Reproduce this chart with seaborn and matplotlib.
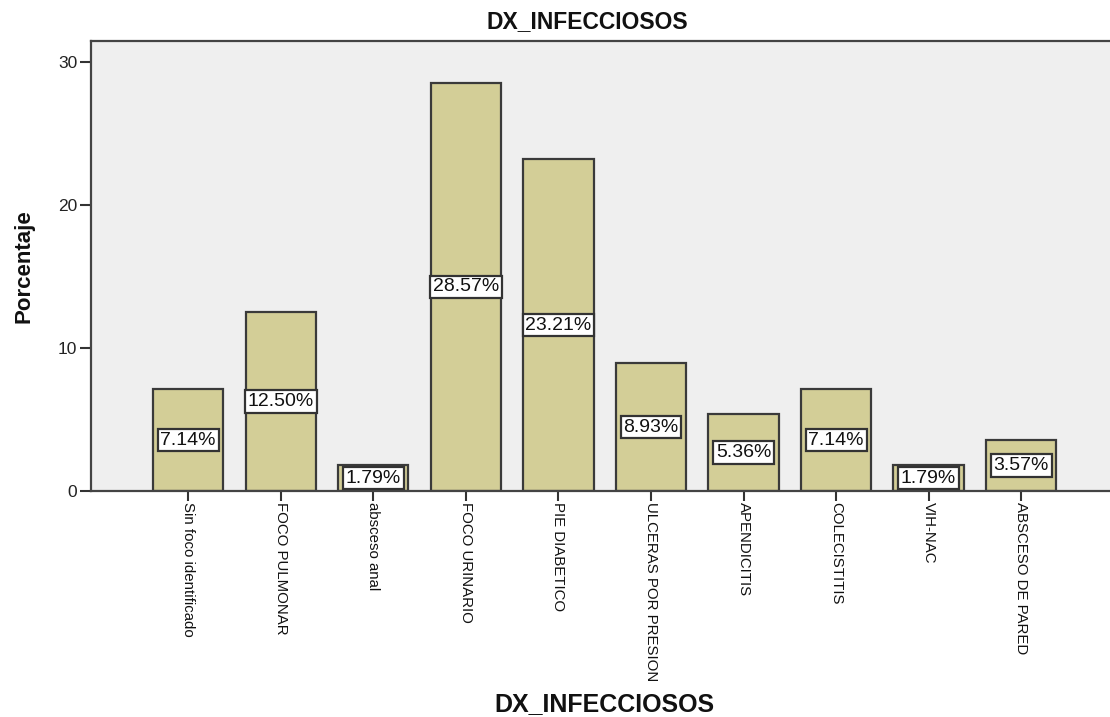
import matplotlib
matplotlib.use("Agg")
import matplotlib.pyplot as plt
import seaborn as sns
import pandas as pd

categorias = [
    "Sin foco identificado", "FOCO PULMONAR", "absceso anal", "FOCO URINARIO",
    "PIE DIABETICO", "ULCERAS POR PRESION", "APENDICITIS", "COLECISTITIS",
    "VIH-NAC", "ABSCESO DE PARED",
]
porcentajes = [7.14, 12.50, 1.79, 28.57, 23.21, 8.93, 5.36, 7.14, 1.79, 3.57]
y_ticks = [0, 10, 20, 30]

sns.set_style("white")
plt.rcParams["font.family"] = ["Liberation Sans", "DejaVu Sans"]

df = pd.DataFrame({"cat": categorias, "pct": porcentajes})

fig = plt.figure(figsize=(11.10, 7.17), dpi=100)
ax = fig.add_axes([0.082, 0.3152, 0.918, 0.6276])
ax.set_facecolor("#efefef")

sns.barplot(data=df, x="cat", y="pct", order=categorias, color="#d3ce97",
            saturation=1, width=0.76, edgecolor="#3a3a3a", linewidth=1.6, ax=ax)

# value labels centred at half the bar height
for i, v in enumerate(porcentajes):
    ax.text(i, v / 2, f"{v:.2f}%", ha="center", va="center", fontsize=14,
            color="#111111",
            bbox=dict(boxstyle="square,pad=0.14", facecolor="white",
                      edgecolor="#333333", linewidth=1.6))

ax.set_xlim(-1.05, 9.96)
ax.set_ylim(0, 31.5)
ax.set_yticks(y_ticks)
ax.set_yticklabels([str(t) for t in y_ticks], fontsize=12.5, color="#222222")
ax.set_xticks(range(len(categorias)))
ax.set_xticklabels(categorias, rotation=270, fontsize=10.8, color="#111111",
                   va="top", ha="center")
ax.tick_params(axis="y", direction="out", length=8, width=1.5,
               color="#333333", left=True, pad=2)
ax.tick_params(axis="x", direction="out", length=7, width=1.5,
               color="#333333", bottom=True, pad=1)

for side in ["left", "top", "bottom"]:
    ax.spines[side].set_color("#444444")
    ax.spines[side].set_linewidth(1.6)
ax.spines["right"].set_visible(False)

ax.set_xlabel("DX_INFECCIOSOS", fontsize=18, fontweight="bold", color="#111111")
ax.set_ylabel("Porcentaje", fontsize=16, fontweight="bold", color="#111111")
ax.xaxis.set_label_coords(0.504, -0.446)
ax.yaxis.set_label_coords(-0.055, 0.5)
fig.suptitle("DX_INFECCIOSOS", x=0.529, y=0.986, fontsize=16.5,
             fontweight="bold", color="#111111")

fig.savefig("out.png", dpi=100, facecolor="white")
